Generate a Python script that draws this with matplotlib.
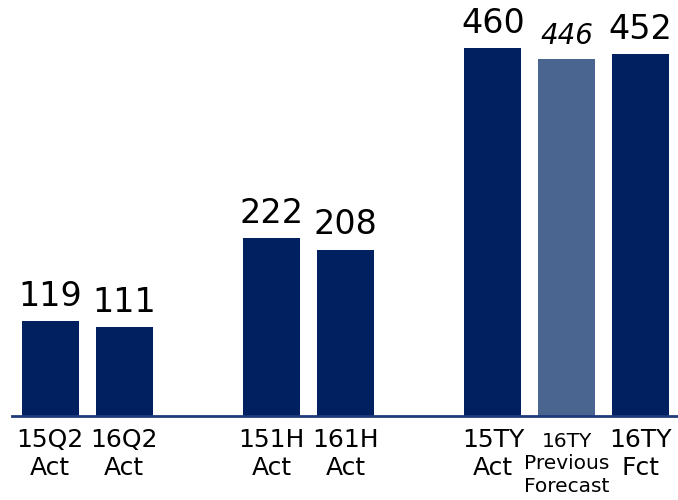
import matplotlib.pyplot as plt

plt.rcParams['font.family'] = ['DejaVu Sans']

labels_q2 = ["15Q2\nAct", "16Q2\nAct"]
labels_1h = ["151H\nAct", "161H\nAct"]
labels_ty = ["15TY\nAct", "16TY\nPrevious\nForecast", "16TY\nFct"]
values_q2 = [119, 111]
values_1h = [222, 208]
values_ty = [460, 446, 452]
forecast_label = "16TY\nPrevious\nForecast"

navy = "#002060"
light = "#4B6591"

labels = labels_q2 + labels_1h + labels_ty
values = values_q2 + values_1h + values_ty

# one empty slot between the groups
pos = []
x = 0
for grp in [labels_q2, labels_1h, labels_ty]:
    for _ in grp:
        pos.append(x)
        x += 1
    x += 1

fig = plt.figure(figsize=(6.78, 5), dpi=100)
ax = fig.add_axes([12 / 678, 84 / 500, 666 / 678, 416 / 500])

for p, v, lab in zip(pos, values, labels):
    prev = lab == forecast_label
    fs = 14.5 if prev else 18
    ax.bar(p, v, width=0.77, color=light if prev else navy)
    ax.annotate(str(v), xy=(p, v), xytext=(0, 11), textcoords="offset points",
                ha="center", va="baseline",
                fontsize=20 if prev else 24,
                style="italic" if prev else "normal", color="black")
    # first line baseline about 31px under the axis
    ax.annotate(lab, xy=(p, 0), xycoords=("data", "axes fraction"),
                xytext=(0, -(22.3 - 0.76 * fs)), textcoords="offset points",
                ha="center", va="top", linespacing=1.25 if prev else 1.2,
                fontsize=fs, color="black")

ax.set_xlim(-0.52, 8.51)
ax.set_ylim(0, 520)
for s in ["top", "right", "left"]:
    ax.spines[s].set_visible(False)
ax.spines["bottom"].set_color("#1F3A78")
ax.spines["bottom"].set_linewidth(2)
ax.set_xticks([])
ax.set_yticks([])

fig.savefig("out.png", dpi=100)
